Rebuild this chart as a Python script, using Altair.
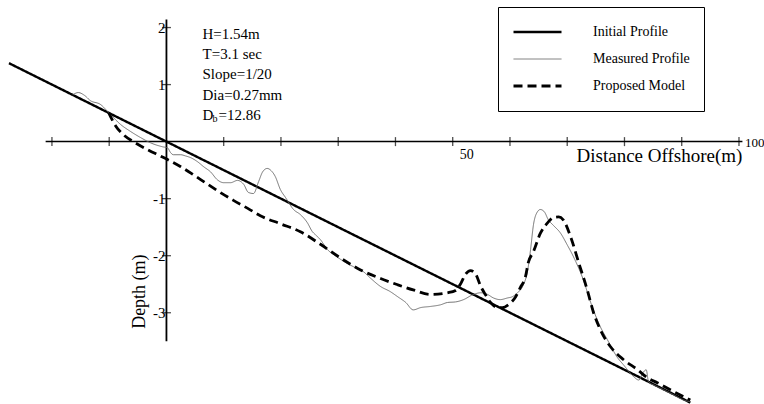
import altair as alt
import pandas as pd

# ---------------- data ----------------
series_names = ["Initial Profile", "Measured Profile", "Proposed Model"]

init_x = [-27.5, 91.5]
init_y = [1.375, -4.575]

meas_x = [-16.4, -15.4, -14.3, -13.3, -11.5, -10.1, -8.0, -6.3, -4.5, -2.8, -0.7, 0.2, 0.7, 1.2,
          2.5, 3.3, 4.2, 5.4, 6.5, 7.7, 8.9, 10.0, 11.2, 12.4, 13.5, 14.3, 15.2, 16.1, 16.8,
          17.6, 18.3, 19.0, 19.9, 20.8, 22.2, 23.4, 24.6, 25.5, 26.0, 26.9, 28.1, 29.5, 31.3,
          33.0, 34.4, 35.6, 37.4, 39.1, 40.4, 41.8, 43.1, 44.4, 46.1, 47.9, 49.1, 50.5, 51.9,
          53.6, 54.9, 56.1, 57.1, 58.3, 59.6, 60.4, 61.3, 62.2, 63.1, 63.6, 64.1, 64.8, 65.3,
          66.0, 66.7, 67.6, 68.8, 70.0, 71.1, 72.8, 74.1, 75.8, 77.0, 78.8, 79.8, 81.6, 82.5,
          83.3, 83.8, 84.2, 85.4, 86.8, 88.6, 90.3, 91.5]
meas_y = [0.82, 0.86, 0.81, 0.72, 0.65, 0.51, 0.30, 0.18, 0.07, -0.02, -0.09, -0.11, -0.19, -0.23,
          -0.23, -0.25, -0.28, -0.35, -0.44, -0.53, -0.67, -0.72, -0.72, -0.68, -0.75, -0.89, -0.91,
          -0.70, -0.53, -0.47, -0.51, -0.61, -0.84, -0.98, -1.19, -1.28, -1.42, -1.58, -1.63, -1.72,
          -1.89, -2.00, -2.12, -2.21, -2.28, -2.39, -2.54, -2.63, -2.72, -2.82, -2.95, -2.91, -2.89,
          -2.86, -2.82, -2.81, -2.77, -2.68, -2.65, -2.68, -2.74, -2.77, -2.74, -2.72, -2.65, -2.54,
          -2.25, -1.89, -1.46, -1.23, -1.19, -1.23, -1.37, -1.47, -1.60, -1.81, -2.02, -2.42, -2.82,
          -3.25, -3.47, -3.79, -3.91, -4.12, -4.18, -4.04, -4.00, -4.21, -4.28, -4.35, -4.44, -4.53,
          -4.56]

model_x = [-10.1, -8.9, -7.5, -5.8, -3.3, -1.1, 0.7, 2.5, 4.7, 6.5, 8.9, 11.7, 14.2, 16.4, 19.9,
           23.4, 26.9, 30.4, 33.9, 37.4, 40.4, 43.1, 46.1, 49.1, 50.5, 51.4, 52.2, 53.1, 54.0, 54.9,
           55.7, 56.6, 57.8, 58.7, 59.7, 61.0, 61.8, 62.7, 63.2, 64.1, 65.3, 66.6, 67.6, 68.5, 69.3,
           70.6, 72.0, 73.5, 74.6, 75.8, 77.6, 79.8, 82.3, 84.0, 85.8, 88.0, 90.3, 91.5]
model_y = [0.51, 0.28, 0.12, 0.00, -0.14, -0.25, -0.34, -0.44, -0.58, -0.70, -0.86, -1.03, -1.17,
           -1.30, -1.44, -1.58, -1.80, -2.04, -2.25, -2.40, -2.51, -2.60, -2.68, -2.65, -2.61, -2.49,
           -2.33, -2.26, -2.32, -2.54, -2.68, -2.82, -2.91, -2.91, -2.86, -2.72, -2.56, -2.37, -2.12,
           -1.93, -1.61, -1.42, -1.33, -1.32, -1.37, -1.67, -2.12, -2.60, -3.00, -3.30, -3.60, -3.82,
           -4.00, -4.14, -4.23, -4.35, -4.47, -4.53]

x_ticks = [-20, -10, 10, 20, 30, 40, 50, 60, 70, 80, 90, 100]
y_ticks = [2, 1, -1, -2, -3]
y_tick_labels = ["2", "1", "-1", "-2", "-3"]
x_label_values = [50]
x_label_text = ["50"]
x_end_value = [100]
x_end_text = ["100"]

x_axis_span = [-21.1, 100.6]
y_axis_span = [-3.5, 2.14]

ann_lines = ["H=1.54m", "T=3.1 sec", "Slope=1/20", "Dia=0.27mm"]
ann_y = [1.88, 1.53, 1.18, 0.82]
ann_x = 6.3
db_y = 0.47
db_value = "=12.86"

x_title = "Distance Offshore(m)"
y_title = "Depth (m)"

# ---------------- tables ----------------
prof = pd.concat([
    pd.DataFrame({"x": init_x, "y": init_y, "series": series_names[0]}),
    pd.DataFrame({"x": meas_x, "y": meas_y, "series": series_names[1]}),
    pd.DataFrame({"x": model_x, "y": model_y, "series": series_names[2]}),
], ignore_index=True)

FONT = "Liberation Serif"
xs = alt.Scale(domain=[-27.5, 101.4], nice=False, zero=False)
ys = alt.Scale(domain=[-4.6, 2.22], nice=False, zero=False)


def X(f):
    return alt.X(f, type="quantitative", scale=xs, axis=None)


def Y(f):
    return alt.Y(f, type="quantitative", scale=ys, axis=None)


leg = alt.Legend(
    title=None, orient="none", legendX=489, legendY=-8,
    strokeColor="black", fillColor="white", padding=14,
    symbolType="stroke", symbolSize=2304, clipHeight=22, rowPadding=5,
    labelFont=FONT, labelFontSize=14, labelColor="black", labelOffset=30,
)

lines = alt.Chart(prof).mark_line(clip=False, interpolate="monotone").encode(
    x=X("x"), y=Y("y"),
    color=alt.Color("series:N", scale=alt.Scale(domain=series_names, range=["#000000", "#666666", "#000000"]), legend=leg),
    strokeDash=alt.StrokeDash("series:N", scale=alt.Scale(domain=series_names, range=[[1, 0], [1, 0], [9, 5]]), legend=leg),
    strokeWidth=alt.StrokeWidth("series:N", scale=alt.Scale(type="ordinal", domain=series_names, range=[2.4, 0.9, 2.8]), legend=leg),
)

xaxis_df = pd.DataFrame({"a": [x_axis_span[0]], "b": [x_axis_span[1]], "z": [0]})
yaxis_df = pd.DataFrame({"a": [y_axis_span[0]], "b": [y_axis_span[1]], "z": [0]})

xaxis = alt.Chart(xaxis_df).mark_rule(color="black", strokeWidth=1.5).encode(
    x=X("a"), x2="b", y=Y("z"))
yaxis = alt.Chart(yaxis_df).mark_rule(color="black", strokeWidth=1.8).encode(
    y=Y("a"), y2="b", x=X("z"))

xt_df = pd.DataFrame({"v": x_ticks, "z": [0] * len(x_ticks)})
yt_df = pd.DataFrame({"v": y_ticks, "z": [0] * len(y_ticks), "t": y_tick_labels})

xticks = alt.Chart(xt_df).mark_tick(orient="vertical", size=9, thickness=1.3, color="black").encode(
    x=X("v"), y=Y("z"))
yticks = alt.Chart(yt_df).mark_tick(orient="horizontal", size=9, thickness=1.3, color="black").encode(
    y=Y("v"), x=X("z"))

ylabels = alt.Chart(yt_df).mark_text(align="right", baseline="middle", dx=-1, font=FONT, fontSize=15,
                                     color="black").encode(y=Y("v"), x=X("z"), text="t:N")

x50 = alt.Chart(pd.DataFrame({"v": x_label_values, "z": [0], "t": x_label_text})).mark_text(
    align="center", baseline="middle", dx=14, dy=13, font=FONT, fontSize=14, color="black"
).encode(x=X("v"), y=Y("z"), text="t:N")
x100 = alt.Chart(pd.DataFrame({"v": x_end_value, "z": [0], "t": x_end_text})).mark_text(
    align="left", baseline="middle", dx=6, dy=1, font=FONT, fontSize=13, color="black"
).encode(x=X("v"), y=Y("z"), text="t:N")

xtitle = alt.Chart(pd.DataFrame({"v": [x_axis_span[1]], "z": [0], "t": [x_title]})).mark_text(
    align="right", baseline="middle", dx=0, dy=14, font=FONT, fontSize=19, color="black"
).encode(x=X("v"), y=Y("z"), text="t:N")
ytitle = alt.Chart(pd.DataFrame({"v": [-4.54], "w": [-2.63], "t": [y_title]})).mark_text(
    align="center", baseline="middle", angle=270, font=FONT, fontSize=18, color="black"
).encode(x=X("v"), y=Y("w"), text="t:N")

ann_df = pd.DataFrame({"x": [ann_x] * len(ann_lines), "y": ann_y, "t": ann_lines})
ann = alt.Chart(ann_df).mark_text(align="left", baseline="middle", font=FONT, fontSize=15,
                                  color="black").encode(x=X("x"), y=Y("y"), text="t:N")
db_df = pd.DataFrame({"x": [ann_x], "y": [db_y], "d": ["D"], "b": ["b"], "v": [db_value]})
db_d = alt.Chart(db_df).mark_text(align="left", baseline="middle", font=FONT, fontSize=15,
                                  color="black").encode(x=X("x"), y=Y("y"), text="d:N")
db_b = alt.Chart(db_df).mark_text(align="left", baseline="middle", dx=10, dy=4, font=FONT, fontSize=10,
                                  color="black").encode(x=X("x"), y=Y("y"), text="b:N")
db_v = alt.Chart(db_df).mark_text(align="left", baseline="middle", dx=16, font=FONT, fontSize=15,
                                  color="black").encode(x=X("x"), y=Y("y"), text="v:N")

chart = alt.layer(
    xaxis, yaxis, xticks, yticks, ylabels, x50, x100, xtitle, ytitle, ann, db_d, db_b, db_v, lines
).properties(
    width=738, height=389,
    padding={"left": 9, "top": 15, "right": 17, "bottom": 0},
    autosize=alt.AutoSizeParams(type="none"),
    background="white",
).configure_view(stroke=None)

chart.save("out.html", embed_options={"renderer": "svg", "actions": False})
